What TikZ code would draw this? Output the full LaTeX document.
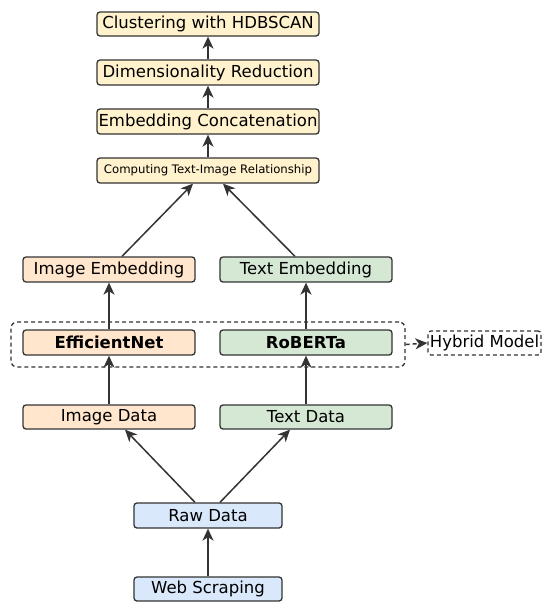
\documentclass[tikz,border=0pt]{standalone}
\usepackage{fontspec}
\setmainfont{DejaVu Sans}
\usetikzlibrary{arrows.meta}
\definecolor{cyel}{HTML}{FFF2CC}
\definecolor{cpeach}{HTML}{FFE6CC}
\definecolor{cgreen}{HTML}{D5E8D4}
\definecolor{cblue}{HTML}{DAE8FC}
\definecolor{cline}{HTML}{333333}
\tikzset{
  box/.style={draw=cline, line width=1.3pt, rounded corners=3pt, inner sep=0pt, font=\fontsize{16.5}{19}\selectfont},
  arr/.style={draw=cline, line width=1.5pt, -{Stealth[length=12pt,width=11pt,inset=3.5pt]}},
  dsh/.style={dash pattern=on 4pt off 3pt},
}
\begin{document}
\begin{tikzpicture}[x=1pt,y=-1pt]
\useasboundingbox (0,0) rectangle (550,611);
\newcommand{\bx}[6]{\node[box, fill=#6, minimum width=#4-#2, minimum height=#5-#3] (#1) at ({(#2+#4)/2},{(#3+#5)/2})}
\bx{clu}{97}{12}{319}{36}{cyel} {Clustering with HDBSCAN};
\bx{dim}{97}{60}{319}{85}{cyel} {Dimensionality Reduction};
\bx{emb}{97}{109}{319}{134}{cyel} {Embedding Concatenation};
\bx{comp}{97}{158}{319}{183}{cyel} {\fontsize{11.7}{13}\selectfont Computing Text-Image Relationship};
\bx{iemb}{23}{257}{195}{282}{cpeach} {Image Embedding};
\bx{temb}{220}{257}{392}{282}{cgreen} {Text Embedding};
\bx{eff}{23}{330}{195}{355}{cpeach} {\bfseries EfficientNet};
\bx{rob}{220}{330}{392}{355}{cgreen} {\bfseries RoBERTa};
\bx{idat}{23}{405}{195}{429}{cpeach} {Image Data};
\bx{tdat}{220}{405}{392}{429}{cgreen} {Text Data};
\bx{raw}{134}{503}{282}{528}{cblue} {Raw Data};
\bx{web}{134}{577}{282}{601}{cblue} {Web Scraping};
\node[draw=cline, line width=1.3pt, dsh, rounded corners=6pt, minimum width=394, minimum height=45, inner sep=0pt] (hyb) at (208,344.5) {};
\node[box, dsh, minimum width=113, minimum height=24] (hm) at (484.5,343) {Hybrid Model};
\draw[arr] (dim) -- (clu);
\draw[arr] (emb) -- (dim);
\draw[arr] (comp) -- (emb);
\draw[arr] (iemb.north -| 122,0) -- (comp.south -| 193,0);
\draw[arr] (temb.north -| 295,0) -- (comp.south -| 223,0);
\draw[arr] (eff.north -| 109,0) -- (iemb.south -| 109,0);
\draw[arr] (rob.north -| 306,0) -- (temb.south -| 306,0);
\draw[arr] (idat.north -| 109,0) -- (eff.south -| 109,0);
\draw[arr] (tdat.north -| 306,0) -- (rob.south -| 306,0);
\draw[arr] (raw.north -| 195,0) -- (idat.south -| 125,0);
\draw[arr] (raw.north -| 220,0) -- (tdat.south -| 290,0);
\draw[arr] (web) -- (raw);
\draw[arr, dsh] (hyb.east) -- (hm.west);
\end{tikzpicture}
\end{document}
